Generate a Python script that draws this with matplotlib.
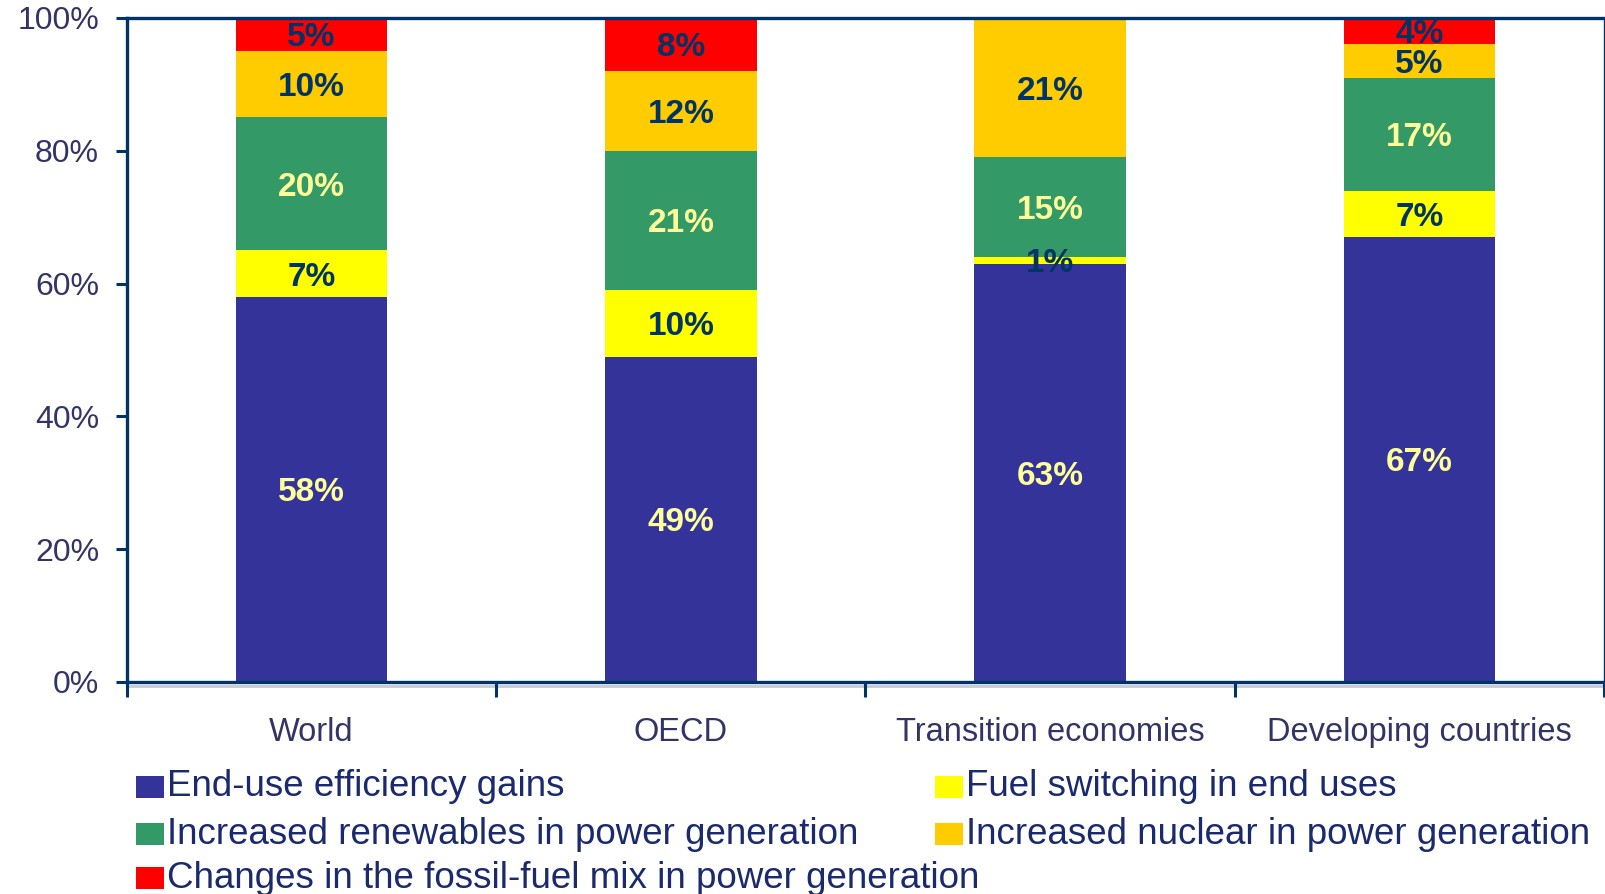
import matplotlib
matplotlib.use('Agg')
import matplotlib.pyplot as plt
from matplotlib.patches import Rectangle
import numpy as np

plt.rcParams['font.family'] = ['Liberation Sans', 'DejaVu Sans']

categories = ['World', 'OECD', 'Transition economies', 'Developing countries']
series_names = ['End-use efficiency gains',
                'Fuel switching in end uses',
                'Increased renewables in power generation',
                'Increased nuclear in power generation',
                'Changes in the fossil-fuel mix in power generation']
end_use = [58, 49, 63, 67]
fuel_switch = [7, 10, 1, 7]
renewables = [20, 21, 15, 17]
nuclear = [10, 12, 21, 5]
fossil_mix = [5, 8, 0, 4]
y_ticks = [0, 20, 40, 60, 80, 100]

colors = ['#333399', '#FFFF00', '#339966', '#FFCC00', '#FF0000']
label_colors = ['#FFFF99', '#003366', '#FFFF99', '#003366', '#003366']
navy = '#003366'

series = [end_use, fuel_switch, renewables, nuclear, fossil_mix]

fig = plt.figure(figsize=(16.06, 8.94), dpi=100)
ax = fig.add_axes([0.079, 0.2372, 0.9198, 0.7428])

x = np.arange(len(categories))
bottom = np.zeros(len(categories))
for vals, col, lcol in zip(series, colors, label_colors):
    vals = np.array(vals, dtype=float)
    ax.bar(x, vals, width=0.41, bottom=bottom, color=col, edgecolor='none', zorder=2)
    for xi, b, v in zip(x, bottom, vals):
        if v > 0:
            ax.text(xi, b + v / 2, f'{int(v)}%', ha='center', va='center_baseline',
                    fontsize=24, fontweight='bold', color=lcol, zorder=3)
    bottom += vals

ax.set_xlim(-0.5, 3.5)
ax.set_ylim(0, 100)
ax.set_yticks(y_ticks)
ax.set_yticklabels([f'{t}%' for t in y_ticks], fontsize=23, color='#333366')
ax.set_xticks([-0.5, 0.5, 1.5, 2.5, 3.5])
ax.set_xticklabels([])
ax.set_xticks(x, minor=True)
ax.set_xticklabels(categories, minor=True, fontsize=23.5, color='#333366')
ax.tick_params(axis='x', which='major', length=11, width=2.2, color=navy, direction='out')
ax.tick_params(axis='x', which='minor', length=0, pad=25)
ax.tick_params(axis='y', length=8, width=2.2, color=navy, pad=12, direction='out')

for side in ['left', 'top', 'bottom']:
    ax.spines[side].set_color(navy)
    ax.spines[side].set_linewidth(2.4)
ax.spines['right'].set_color(navy)
ax.spines['right'].set_linewidth(1.0)

# light grey shadow just under the x axis line
ax.plot([0, 1], [-0.006, -0.006], transform=ax.transAxes, color='#c8c8d8',
        lw=2, clip_on=False, zorder=1)

# legend drawn by hand: the third entry runs under the second column
W, H = 1606.0, 894.0
legend_pos = [(136, 787), (935, 787), (136, 834), (935, 834), (136, 878)]
for idx, (px, py) in enumerate(legend_pos):
    fig.patches.append(Rectangle((px / W, 1 - (py + 11) / H), 28 / W, 22 / H,
                                 transform=fig.transFigure, facecolor=colors[idx],
                                 edgecolor='none'))
    fig.text((px + 31) / W, 1 - py / H, series_names[idx], fontsize=26.5,
             color='#1a2a6c', ha='left', va='center')

fig.savefig('out.png', dpi=100)
